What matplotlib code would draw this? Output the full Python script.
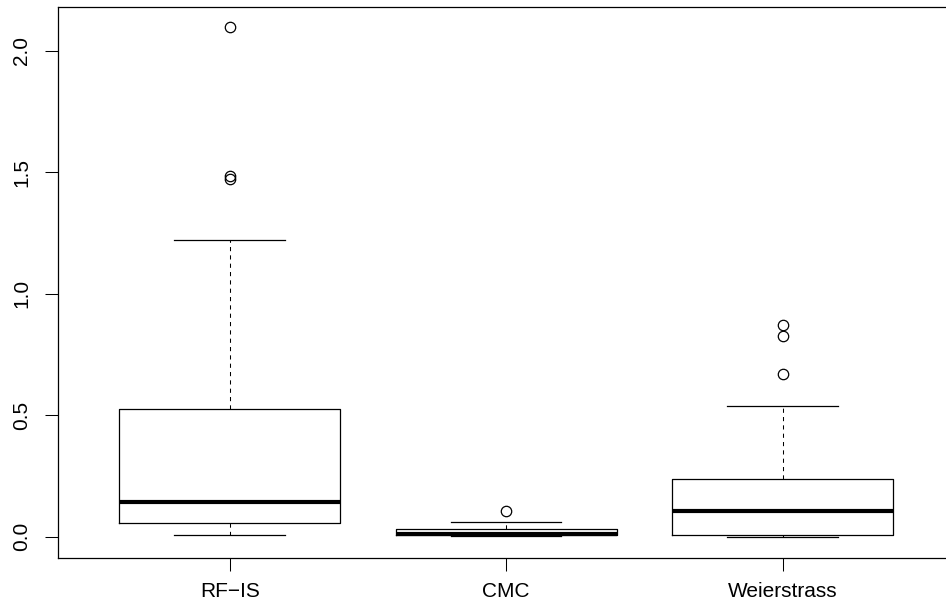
# Boxplot of estimation error for the three samplers (RF-IS, CMC, Weierstrass)

import matplotlib
matplotlib.use('Agg')
import matplotlib.pyplot as plt

plt.rcParams['font.family'] = ['Liberation Sans', 'DejaVu Sans']

methods = ['RF\u2212IS', 'CMC', 'Weierstrass']

# five-number summaries read per method
whisker_low = [0.007, 0.002, 0.0]
quartile_1 = [0.055, 0.005, 0.008]
medians = [0.142, 0.013, 0.106]
quartile_3 = [0.525, 0.031, 0.239]
whisker_high = [1.221, 0.062, 0.539]
outliers = [[1.472, 1.485, 2.097], [0.106], [0.669, 0.828, 0.872]]

y_ticks = [0.0, 0.5, 1.0, 1.5, 2.0]


def make_stats():
    stats = []
    for i, name in enumerate(methods):
        stats.append({
            'label': name,
            'whislo': whisker_low[i],
            'q1': quartile_1[i],
            'med': medians[i],
            'q3': quartile_3[i],
            'whishi': whisker_high[i],
            'fliers': outliers[i],
        })
    return stats


fig = plt.figure(figsize=(9.46, 6.11), dpi=100)
# R-style plot region; right edge runs just past the canvas
ax = fig.add_axes([58.3 / 946, 53 / 611, (954 - 58.3) / 946, 551 / 611])

ax.bxp(make_stats(), positions=[1, 2, 3], widths=0.8, capwidths=0.4,
       boxprops=dict(color='black', linewidth=0.9),
       whiskerprops=dict(color='black', linewidth=0.75, linestyle=(0, (4, 4))),
       capprops=dict(color='black', linewidth=0.9),
       medianprops=dict(color='black', linewidth=3.0, solid_capstyle='butt'),
       flierprops=dict(marker='o', markerfacecolor='none', markeredgecolor='black',
                       markersize=7.5, markeredgewidth=0.9))

ax.set_xlim(0.38, 3.62)
ax.set_ylim(-0.0877, 2.18)

ax.set_xticks([1, 2, 3])
ax.set_xticklabels(methods, fontsize=15)
ax.set_yticks(y_ticks)
ax.set_yticklabels(['%.1f' % v for v in y_ticks], fontsize=15, rotation=90, va='center')

ax.tick_params(axis='both', direction='out', length=9.5, width=0.75, color='black')
ax.tick_params(axis='x', pad=8)
ax.tick_params(axis='y', pad=10)

for s in ax.spines.values():
    s.set_linewidth(0.9)
    s.set_color('black')

fig.savefig('out.png', dpi=100)
